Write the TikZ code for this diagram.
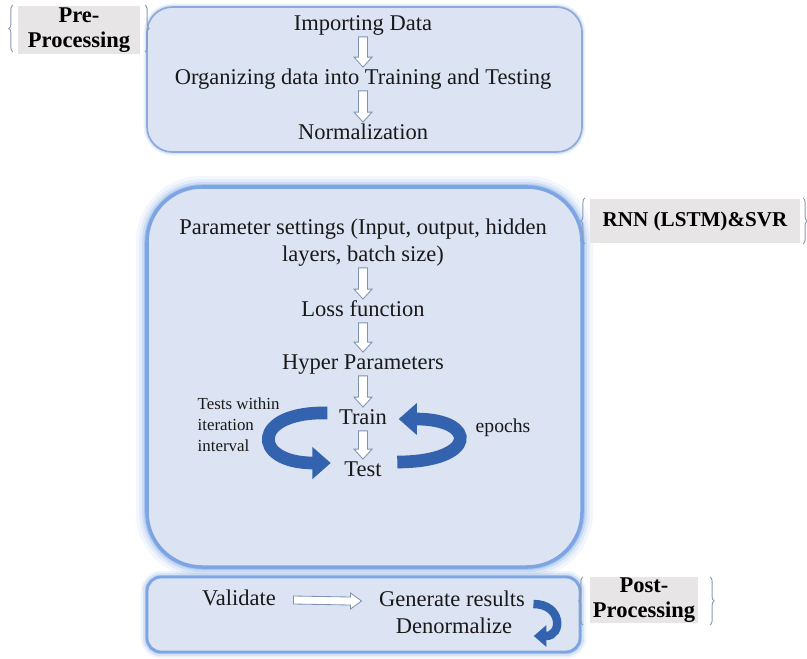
\documentclass[tikz,border=0pt]{standalone}
\usepackage{fontspec}
\setmainfont{Liberation Serif}
\usetikzlibrary{calc,arrows.meta,decorations.pathreplacing}

\definecolor{panelFill}{HTML}{DCE3F3}
\definecolor{panelEdge}{HTML}{7DA5E3}
\definecolor{thinEdge}{HTML}{8EA9DB}
\definecolor{glowBlue}{HTML}{9DBCEB}
\definecolor{tagGray}{HTML}{E7E5E5}
\definecolor{braceGray}{HTML}{8A9AB5}
\definecolor{loopBlue}{HTML}{3363AE}
\definecolor{arrowEdge}{HTML}{7F93B3}

% hollow block arrows between two points
\newcommand{\downhollow}[2]{%
  \draw[hollowarrow] ($(#1)+(-4.5,0)$) -- ($(#2)+(-4.5,-10)$) -- ($(#2)+(-9,-10)$) -- (#2)
    -- ($(#2)+(9,-10)$) -- ($(#2)+(4.5,-10)$) -- ($(#1)+(4.5,0)$) -- cycle;}
\newcommand{\righthollow}[2]{%
  \draw[hollowarrow] ($(#1)+(0,-4)$) -- ($(#2)+(-11,-4)$) -- ($(#2)+(-11,-8)$) -- (#2)
    -- ($(#2)+(-11,8)$) -- ($(#2)+(-11,4)$) -- ($(#1)+(0,4)$) -- cycle;}

\begin{document}
\begin{tikzpicture}[x=0.025cm, y=-0.025cm,
  txt/.style={font=\fontsize{16}{19}\selectfont, text=black!90, inner sep=1pt,
    text height=11pt, text depth=3.5pt},
  smalltxt/.style={font=\fontsize{12}{15}\selectfont, text=black!90, align=left, inner sep=1pt},
  tagbox/.style={fill=tagGray, font=\bfseries\fontsize{16}{18}\selectfont, align=center, inner sep=0pt},
  bracket/.style={draw=braceGray, line width=0.7pt, decorate, decoration={brace, amplitude=3pt}},
  loopband/.style={draw=loopBlue, line width=9pt, -{Triangle[length=13pt, width=22pt]}},
  smallloop/.style={draw=loopBlue, line width=6pt, -{Triangle[length=9pt, width=15pt]}},
  hollowarrow/.style={draw=arrowEdge, fill=white, line width=0.6pt}]

  \useasboundingbox (0,0) rectangle (807,658);

  % panels with a soft glow
  \foreach \w/\o in {5/.15, 3/.3}
    \draw[glowBlue, line width=\w pt, opacity=\o, rounded corners=18pt] (147,7) rectangle (582,152);
  \draw[fill=panelFill, draw=thinEdge, line width=1.2pt, rounded corners=18pt] (147,7) rectangle (582,152);

  \foreach \w/\o in {16/.12, 11/.2, 7/.35, 4/.7}
    \draw[glowBlue, line width=\w pt, opacity=\o, rounded corners=39pt] (147,187) rectangle (582,567);
  \draw[fill=panelFill, draw=panelEdge, line width=2.5pt, rounded corners=39pt] (147,187) rectangle (582,567);

  \foreach \w/\o in {9/.15, 6/.3, 3/.6}
    \draw[glowBlue, line width=\w pt, opacity=\o, rounded corners=10pt] (147,577) rectangle (580,652);
  \draw[fill=panelFill, draw=panelEdge, line width=2pt, rounded corners=10pt] (147,577) rectangle (580,652);

  % side tags
  \node[tagbox, minimum width=3.05cm, minimum height=1.175cm] (pretag) at (79,30) {Pre-\\Processing};
  \draw[bracket] (13,52) -- (13,5);
  \draw[bracket] (145,5) -- (145,52);
  \node[tagbox, minimum width=5.25cm, minimum height=1.1cm, font=\bfseries\fontsize{15}{18}\selectfont] (rnntag) at (695,221) {RNN (LSTM)\&SVR};
  \draw[bracket] (585,244) -- (585,198);
  \draw[bracket] (803,198) -- (803,244);
  \node[tagbox, minimum width=2.7cm, minimum height=1.15cm] (posttag) at (644,600) {Post-\\Processing};
  \draw[bracket] (583,625) -- (583,577);
  \draw[bracket] (710,577) -- (710,625);

  % pre-processing
  \node[txt] (imp) at (363,25) {Importing Data};
  \node[txt] (org) at (363,79) {Organizing data into Training and Testing};
  \node[txt] (nrm) at (363,134) {Normalization};
  \downhollow{imp.south}{org.north}
  \downhollow{org.south}{nrm.north}

  % model
  \node[txt] (par1) at (363,229) {Parameter settings (Input, output, hidden};
  \node[txt] (par2) at (363,256) {layers, batch size)};
  \node[txt] (loss) at (363,311) {Loss function};
  \node[txt] (hyp) at (363,364) {Hyper Parameters};
  \node[txt] (train) at (363,419) {Train};
  \node[txt] (test) at (363,471) {Test};
  \downhollow{par2.south}{loss.north}
  \downhollow{loss.south}{hyp.north}
  \downhollow{hyp.south}{train.north}
  \downhollow{train.south}{test.north}

  \draw[loopband] ($(train.west)+(-10,-6)$) .. controls +(-76,-2) and +(-80,0) .. ($(test.west)+(-12,-8)$);
  \draw[loopband] ($(test.east)+(14,-9)$) .. controls +(80,0) and +(80,0) .. ($(train.east)+(10,0)$);
  \node[smalltxt, anchor=west] (within) at (196,425) {Tests within\\iteration\\interval};
  \node[anchor=west, inner sep=1pt, font=\fontsize{14}{17}\selectfont, text=black!90] (epochs) at (474,428) {epochs};

  % post-processing
  \node[txt] (val) at (239,600) {Validate};
  \node[txt] (gen) at (452,601) {Generate results};
  \node[txt] (den) at (454,628) {Denormalize};
  \righthollow{$(val.east)+(16,0)$}{$(gen.west)+(-16,0)$}
  \draw[smallloop] ($(gen.east)+(7,3)$) .. controls +(29,0) and +(29,0) .. ($(den.east)+(20,8)$);
\end{tikzpicture}
\end{document}
